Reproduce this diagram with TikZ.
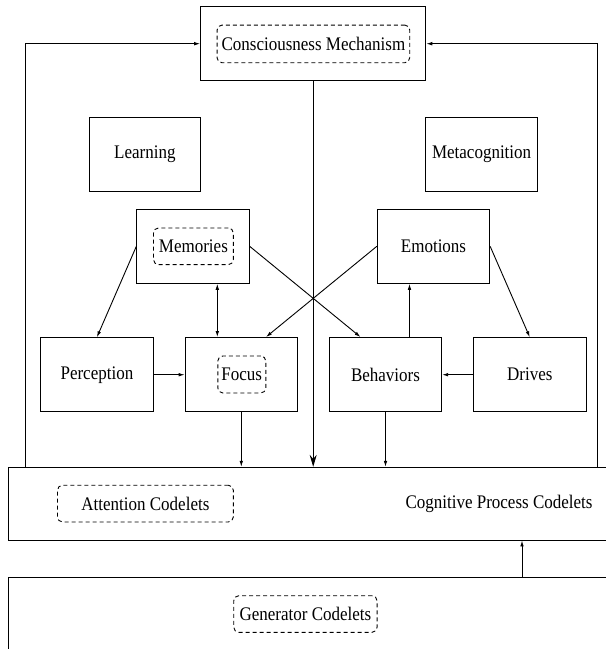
\documentclass[tikz,border=0pt]{standalone}
\usepackage{fontspec}
\setmainfont{Liberation Serif}
\usetikzlibrary{arrows.meta,calc}
\newcommand{\tx}[1]{\scalebox{1}[1.13]{#1}}
\tikzset{
  box/.style={draw, line width=0.9pt, rectangle, inner sep=0pt, font=\fontsize{17}{20}\selectfont},
  thickbox/.style={box, line width=1.3pt},
  dbox/.style={draw, line width=0.9pt, dash pattern=on 4pt off 3pt, rounded corners=5pt, inner sep=0pt, font=\fontsize{17}{20}\selectfont},
  lbl/.style={inner sep=0pt, font=\fontsize{17}{20}\selectfont},
  arr/.style={line width=0.9pt, -{Latex[length=6pt,width=3.6pt]}},
  barr/.style={line width=0.9pt, {Latex[length=6pt,width=3.6pt]}-{Latex[length=6pt,width=3.6pt]}},
  bigarr/.style={line width=1pt, -{Stealth[length=12pt,width=7pt,inset=4pt]}},
  ln/.style={line width=0.9pt}
}
\begin{document}
\begin{tikzpicture}[x=1pt,y=-1pt]
\clip (0,0) rectangle (606,649);
\fill[white] (0,0) rectangle (606,649);
% top
\node[thickbox, minimum width=224.8pt, minimum height=74pt] (cm) at (313.2,43.7) {};
\node[dbox, minimum width=192.7pt, minimum height=37.7pt] (cmd) at (313.4,43.9) {\tx{Consciousness Mechanism}};
% second row
\node[box, minimum width=111.8pt, minimum height=73.7pt] (lea) at (144.9,154.2) {\tx{Learning}};
\node[box, minimum width=111.8pt, minimum height=73.7pt] (met) at (481.6,154.2) {\tx{Metacognition}};
% third row
\node[box, minimum width=112.4pt, minimum height=74pt] (mem) at (193,246.3) {};
\node[dbox, minimum width=79.8pt, minimum height=36.7pt] (memd) at (193.4,246.3) {\tx{Memories}};
\node[box, minimum width=112.4pt, minimum height=74pt] (emo) at (433.5,246.3) {\tx{Emotions}};
% fourth row
\node[box, minimum width=112.4pt, minimum height=74pt] (per) at (96.9,374.7) {\tx{Perception}};
\node[thickbox, minimum width=112pt, minimum height=74pt] (foc) at (241.3,374.7) {};
\node[dbox, minimum width=48pt, minimum height=37pt] (focd) at (241.8,374.5) {\tx{Focus}};
\node[thickbox, minimum width=112pt, minimum height=74pt] (beh) at (385.5,374.7) {\tx{Behaviors}};
\node[box, minimum width=112.4pt, minimum height=74pt] (dri) at (529.8,374.7) {\tx{Drives}};
% codelet boxes
\node[box, minimum width=611.5pt, minimum height=72.7pt] (cog) at (314.25,503.65) {};
\node[lbl] (cogt) at (499,503.6) {\tx{Cognitive Process Codelets}};
\node[dbox, minimum width=175.9pt, minimum height=36.7pt] (att) at (145.4,503.6) {\tx{Attention Codelets}};
\node[box, minimum width=611.5pt, minimum height=92.6pt] (gen) at (314.25,623.6) {};
\node[dbox, minimum width=143.3pt, minimum height=36.6pt] (gend) at (305.4,614) {\tx{Generator Codelets}};
% feedback coordinates
\coordinate (lf) at (25,467.3);
\coordinate (rf) at (597,467.3);
\draw[arr] (lf) |- (cm.west);
\draw[arr] (rf) |- (cm.east);
% central arrow
\draw[bigarr] (cm.south) -- (cm.south |- cog.north);
% memories
\draw[arr] (mem.west) -- (per.north);
\draw[barr] (mem.south -| 217.3,0) -- (foc.north -| 217.3,0);
\draw[arr] (mem.east) -- (beh.north -| 360.5,0);
% emotions
\draw[arr] (emo.west) -- (foc.north -| 266,0);
\draw[arr] (emo.east) -- (dri.north);
\draw[arr] (beh.north -| 409.5,0) -- (emo.south -| 409.5,0);
% horizontal
\draw[arr] (per.east) -- (foc.west);
\draw[arr] (dri.west) -- (beh.east);
% down to cognitive
\draw[arr] (foc.south) -- (foc.south |- cog.north);
\draw[arr] (beh.south) -- (beh.south |- cog.north);
% generator to cognitive
\draw[arr] (gen.north -| 522,0) -- (cog.south -| 522,0);
\end{tikzpicture}
\end{document}
